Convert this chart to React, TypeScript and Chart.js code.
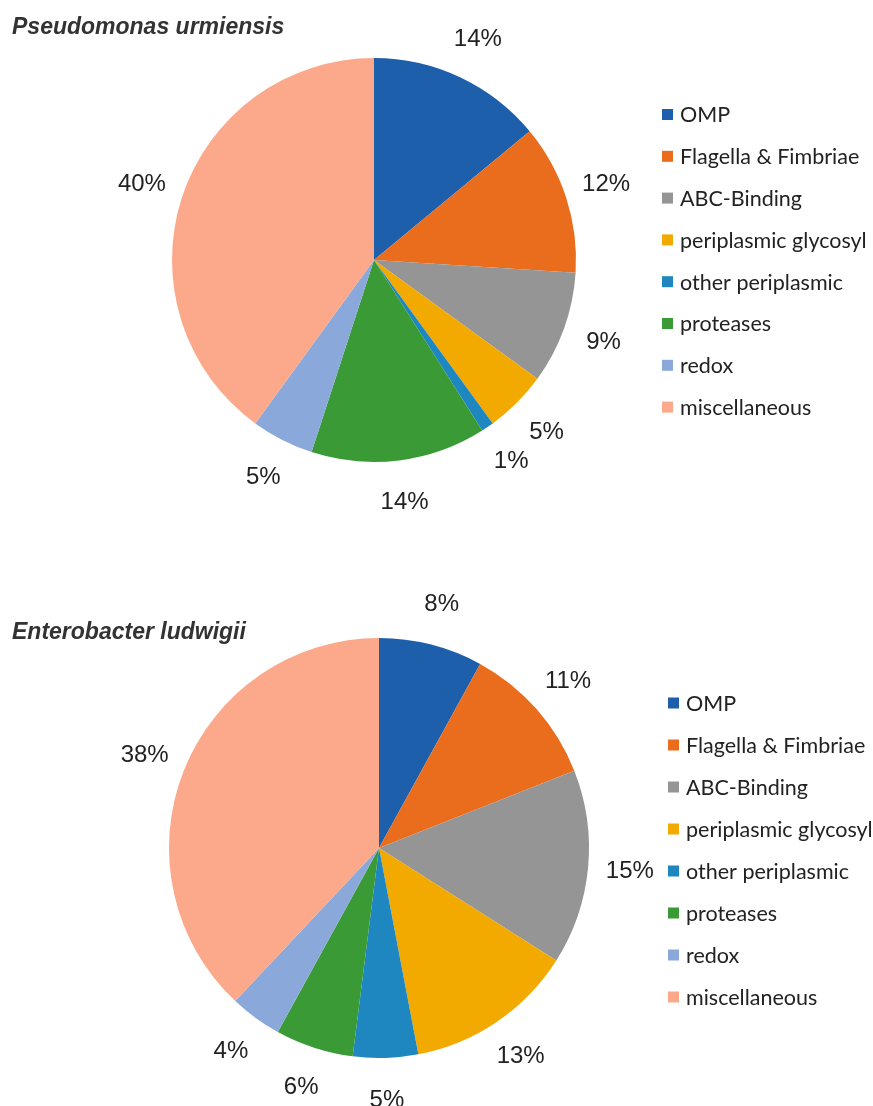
import React, { useEffect, useRef } from "react";
import { Chart, registerables } from "chart.js";

Chart.register(...registerables);

const categories = [
  "OMP",
  "Flagella & Fimbriae",
  "ABC-Binding",
  "periplasmic glycosyl",
  "other periplasmic",
  "proteases",
  "redox",
  "miscellaneous",
];

const colors = [
  "#1e5fab",
  "#ea6c1d",
  "#959595",
  "#f2a900",
  "#1f87c0",
  "#3a9a35",
  "#8ba8db",
  "#fba98a",
];

const pseudomonasValues = [14, 12, 9, 5, 1, 14, 5, 40];
const enterobacterValues = [8, 11, 15, 13, 5, 6, 4, 38];

const titleTop = "Pseudomonas urmiensis";
const titleBottom = "Enterobacter ludwigii";

type Geo = {
  cx: number;
  cy: number;
  r: number;
  titleY: number;
  legendX: number;
  legendY: number;
  legendStep: number;
};

const W = 873;
const H = 553;

function PieBlock({ title, values, geo, top }: { title: string; values: number[]; geo: Geo; top: number }) {
  const ref = useRef<HTMLCanvasElement | null>(null);
  useEffect(() => {
    if (!ref.current) return;
    const overlay = {
      id: "overlay",
      afterDatasetsDraw(chart: any) {
        const ctx = chart.ctx;
        ctx.save();
        // title
        ctx.fillStyle = "#333333";
        ctx.font = "italic bold 23px 'Liberation Sans', Arial, sans-serif";
        ctx.textAlign = "left";
        ctx.textBaseline = "alphabetic";
        ctx.fillText(title, 12, geo.titleY);
        // percent labels
        const meta = chart.getDatasetMeta(0);
        ctx.font = "24px 'Liberation Sans', Arial, sans-serif";
        ctx.fillStyle = "#222222";
        ctx.textAlign = "center";
        ctx.textBaseline = "middle";
        meta.data.forEach((arc: any, i: number) => {
          const p = arc.getProps(["x", "y", "startAngle", "endAngle", "outerRadius"], true);
          const mid = (p.startAngle + p.endAngle) / 2;
          const d = p.outerRadius + 42;
          ctx.fillText(values[i] + "%", p.x + Math.cos(mid) * d, p.y + Math.sin(mid) * d);
        });
        // legend
        ctx.textAlign = "left";
        ctx.font = "21.5px Lato, 'Open Sans', sans-serif";
        categories.forEach((c, i) => {
          const y = geo.legendY + i * geo.legendStep;
          ctx.fillStyle = colors[i];
          ctx.fillRect(geo.legendX, y - 5.5, 11, 11);
          ctx.fillStyle = "#222222";
          ctx.fillText(c, geo.legendX + 18, y + 1);
        });
        ctx.restore();
      },
    };
    const chart = new Chart(ref.current, {
      type: "pie",
      data: {
        labels: categories,
        datasets: [
          {
            data: values,
            backgroundColor: colors,
            borderWidth: 0,
            hoverOffset: 0,
            offset: 0,
          },
        ],
      },
      options: {
        responsive: false,
        animation: false,
        events: [],
        layout: {
          padding: {
            left: geo.cx - geo.r,
            right: W - (geo.cx + geo.r),
            top: geo.cy - geo.r,
            bottom: H - (geo.cy + geo.r),
          },
        },
        plugins: {
          legend: { display: false },
          tooltip: { enabled: false },
        },
      },
      plugins: [overlay],
    });
    return () => chart.destroy();
  }, [title, values, geo]);
  return (
    <canvas
      ref={ref}
      width={W}
      height={H}
      style={{ position: "absolute", left: 0, top, width: W, height: H }}
    />
  );
}

const geoTop: Geo = { cx: 374, cy: 260, r: 202, titleY: 34, legendX: 662, legendY: 114.5, legendStep: 41.8 };
const geoBottom: Geo = { cx: 379, cy: 295, r: 210, titleY: 86, legendX: 668, legendY: 150, legendStep: 42 };

export default function App() {
  return (
    <div style={{ position: "absolute", left: 0, top: 0, width: W, height: 1106, background: "#ffffff" }}>
      <PieBlock title={titleTop} values={pseudomonasValues} geo={geoTop} top={0} />
      <PieBlock title={titleBottom} values={enterobacterValues} geo={geoBottom} top={553} />
    </div>
  );
}
